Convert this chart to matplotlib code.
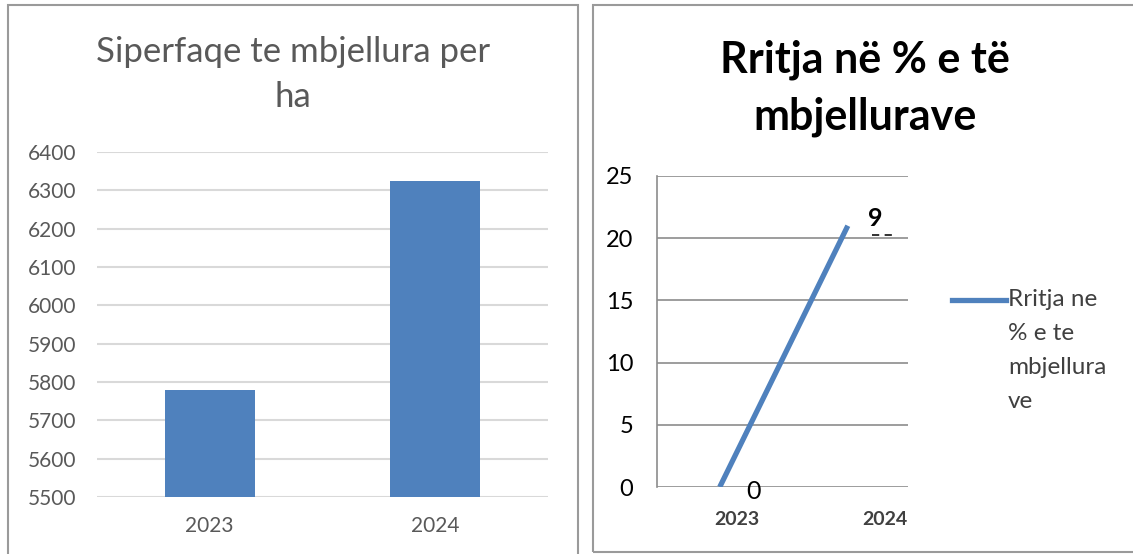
import matplotlib.pyplot as plt
from matplotlib.lines import Line2D
from matplotlib.patches import Rectangle
from matplotlib.transforms import IdentityTransform

# Data
years = ['2023', '2024']
area_ha = [5780, 6325]
growth_pct = [0, 21]
growth_labels = ['0', '9']

W, H = 1133, 554
fig = plt.figure(figsize=(W / 100, H / 100), dpi=100)
fig.patch.set_facecolor('white')

def fx(px):
    return px / W

def fy(py):
    return 1 - py / H

# panel frames
fig.add_artist(Rectangle((fx(8), fy(570)), fx(570), 565 / H, transform=fig.transFigure,
                         fill=False, edgecolor='#9a9a9a', lw=1.5))
fig.add_artist(Rectangle((fx(593), fy(552)), fx(560), 547 / H, transform=fig.transFigure,
                         fill=False, edgecolor='#9a9a9a', lw=1.5))

blue = '#4F81BD'

# ---- left: bar chart
ax1 = fig.add_axes([fx(97), fy(497), fx(548 - 97), (497 - 152) / H])
ax1.bar(range(len(years)), area_ha, width=0.4, color=blue, zorder=3)
ax1.set_xlim(-0.5, 1.5)
ax1.set_ylim(5500, 6400)
ax1.set_yticks(range(5500, 6401, 100))
ax1.set_xticks(range(len(years)))
ax1.set_xticklabels(years)
ax1.grid(axis='y', color='#d9d9d9', lw=1.5, zorder=0)
for s in ax1.spines.values():
    s.set_visible(False)
ax1.tick_params(length=0, labelsize=15, labelcolor='#595959')
ax1.tick_params(axis='y', pad=15)
ax1.tick_params(axis='x', pad=14)
for t in ax1.get_xticklabels() + ax1.get_yticklabels():
    t.set_family('Lato')
fig.text(fx(293), fy(52), 'Siperfaqe te mbjellura per', ha='center', va='center',
         fontsize=25, color='#595959', family='Lato')
fig.text(fx(293), fy(97), 'ha', ha='center', va='center',
         fontsize=25, color='#595959', family='Lato')

# ---- right: line chart
ax2 = fig.add_axes([fx(657), fy(487), fx(908 - 657), (487 - 176) / H])
line, = ax2.plot([0, 1], growth_pct, color=blue, lw=3.8, solid_capstyle='butt', zorder=3)
ax2.set_xlim(-0.49, 1.47)
ax2.set_ylim(0, 25)
ax2.set_yticks(range(0, 26, 5))
ax2.grid(axis='y', color='#8c8c8c', lw=1.2, zorder=0)
for name, s in ax2.spines.items():
    s.set_visible(name == 'left')
ax2.spines['left'].set_color('#8c8c8c')
ax2.spines['left'].set_linewidth(1.2)
ax2.set_xticks([0.13, 1.29])
ax2.set_xticklabels(years)
ax2.tick_params(length=0)
ax2.tick_params(axis='y', pad=17, labelsize=17, labelcolor='black')
ax2.tick_params(axis='x', pad=17, labelsize=14, labelcolor='#404040')
for t in ax2.get_yticklabels():
    t.set_family('Lato')
for t in ax2.get_xticklabels():
    t.set_family('Lato')
    t.set_fontweight('bold')

ax2.annotate(growth_labels[0], (0, growth_pct[0]), xytext=(24, -3), textcoords='offset points',
             ha='center', va='center', fontsize=18, family='Lato', color='black')
ax2.annotate(growth_labels[1], (1, growth_pct[1]), xytext=(20, 5), textcoords='offset points',
             ha='center', va='center', fontsize=18, family='Lato', fontweight='bold', color='black')
# dashed underline under the "9" label
px, py = ax2.transData.transform((1, growth_pct[1]))
fig.add_artist(Line2D([px + 24, px + 49], [py - 9, py - 9], transform=IdentityTransform(),
                      color='#222222', lw=1.3, dashes=(4, 3)))

fig.text(fx(865), fy(60), 'Rritja në % e të', ha='center', va='center',
         fontsize=31, fontweight='bold', family='Lato', color='black')
fig.text(fx(865), fy(117), 'mbjellurave', ha='center', va='center',
         fontsize=31, fontweight='bold', family='Lato', color='black')

# legend
fig.add_artist(Line2D([fx(952), fx(1006)], [fy(300), fy(300)], color=line.get_color(),
                      lw=3.8, transform=fig.transFigure))
for i, s in enumerate(['Rritja ne', '% e te', 'mbjellura', 've']):
    fig.text(fx(1008), fy(300 + 34 * i), s, ha='left', va='center', fontsize=17.5,
             family='Lato', color='#404040')

fig.savefig('out.png', dpi=100)
